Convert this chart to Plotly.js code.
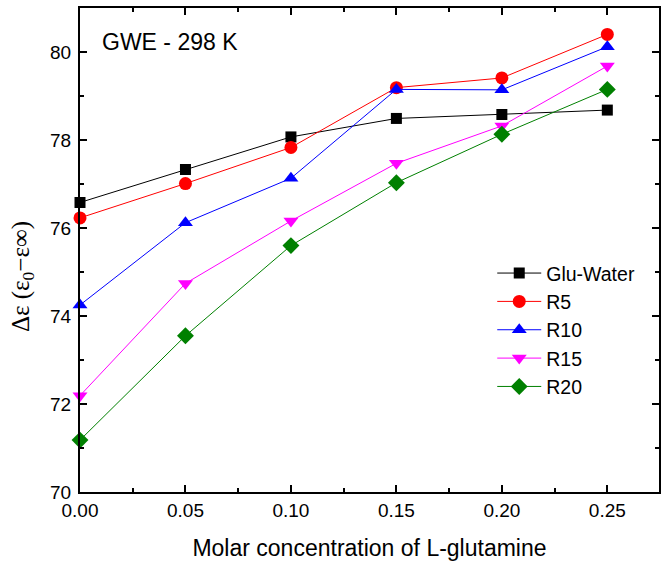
<!DOCTYPE html>
<html><head><meta charset="utf-8">
<script src="https://cdn.plot.ly/plotly-3.0.1.min.js"></script>
<style>body{margin:0;background:#fff}#g{width:661px;height:564px}</style>
</head><body><div id="g"></div>
<script>
const conc = [0.00, 0.05, 0.10, 0.15, 0.20, 0.25];
const gluWater = [76.58, 77.33, 78.07, 78.49, 78.58, 78.68];
const r5 = [76.23, 77.01, 77.83, 79.19, 79.41, 80.40];
const r10 = [74.25, 76.12, 77.13, 79.15, 79.14, 80.12];
const r15 = [72.19, 74.74, 76.16, 77.47, 78.32, 79.68];
const r20 = [71.18, 73.55, 75.60, 77.03, 78.13, 79.15];
const names = ['Glu-Water', 'R5', 'R10', 'R15', 'R20'];
const colors = ['#000000', '#ff0000', '#0000ff', '#ff00ff', '#008000'];
const symbols = ['square', 'circle', 'triangle-up', 'triangle-down', 'diamond'];
const sizes = [11, 13, 13, 13, 13];
const series = [gluWater, r5, r10, r15, r20];

const traces = series.map((ys, i) => ({
  x: conc, y: ys, name: names[i], type: 'scatter', mode: 'lines+markers',
  line: {color: colors[i], width: 1},
  marker: {color: colors[i], symbol: symbols[i], size: sizes[i]},
  cliponaxis: false
}));

const axisCommon = {
  showline: true, linecolor: '#000', linewidth: 2, mirror: 'allticks',
  ticks: 'inside', ticklen: 7, tickwidth: 1.5, tickcolor: '#000',
  showgrid: false, zeroline: false,
  tickfont: {family: 'Liberation Sans, Arial', size: 19, color: '#000'}
};

const layout = {
  width: 661, height: 564,
  margin: {l: 80, r: 2, t: 8, b: 72},
  paper_bgcolor: '#fff', plot_bgcolor: '#fff',
  showlegend: true,
  legend: {x: 0.712, y: 0.492, xanchor: 'left', yanchor: 'top',
    font: {family: 'Liberation Sans, Arial', size: 19.5, color: '#000'},
    bgcolor: 'rgba(0,0,0,0)', tracegroupgap: 0, itemwidth: 44},
  xaxis: Object.assign({}, axisCommon, {
    range: [0, 0.2745], tickvals: [0, 0.05, 0.10, 0.15, 0.20, 0.25],
    ticktext: ['0.00', '0.05', '0.10', '0.15', '0.20', '0.25'],
    minor: {tickvals: [0.025, 0.075, 0.125, 0.175, 0.225, 0.275], ticks: 'inside', ticklen: 4, tickwidth: 1.5, tickcolor: '#000'},
    title: {text: 'Molar concentration of L-glutamine', standoff: 20,
      font: {family: 'Liberation Sans, Arial', size: 23, color: '#000'}}
  }),
  yaxis: Object.assign({}, axisCommon, {
    range: [70, 81], tickvals: [70, 72, 74, 76, 78, 80],
    ticklabelstandoff: 3,
    minor: {tickvals: [71, 73, 75, 77, 79, 81], ticks: 'inside', ticklen: 4, tickwidth: 1.5, tickcolor: '#000'}
  }),
  annotations: [{
    xref: 'paper', yref: 'paper', x: 0.0345, y: 0.93, xanchor: 'left', yanchor: 'middle',
    text: 'GWE - 298 K', showarrow: false,
    font: {family: 'Liberation Sans, Arial', size: 23, color: '#000'}
  }, {
    xref: 'paper', yref: 'paper', x: 0, y: 0.444, xanchor: 'center', yanchor: 'middle',
    xshift: -58, textangle: -90, showarrow: false,
    text: 'Δε (ε<sub>0</sub>−ε∞)',
    font: {family: 'Liberation Serif, Times New Roman', size: 25, color: '#000'}
  }]
};

Plotly.newPlot('g', traces, layout, {displayModeBar: false});
</script></body></html>
